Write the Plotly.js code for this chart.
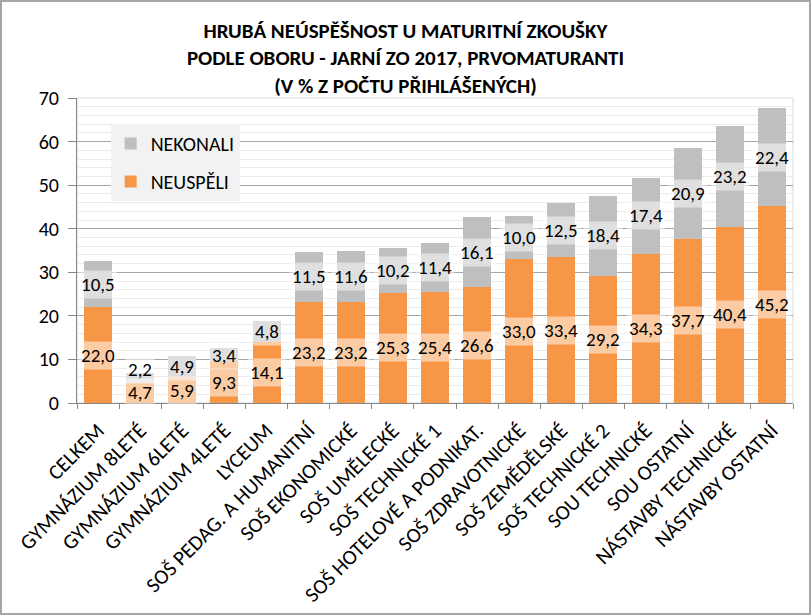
<!DOCTYPE html>
<html>
<head>
<meta charset="utf-8">
<script src="https://cdn.plot.ly/plotly-3.0.1.min.js"></script>
<style>
  html, body { margin: 0; padding: 0; background: #fff; }
  #wrap { position: relative; width: 811px; height: 615px; }
  #chart { width: 811px; height: 615px; }
  #frame { position: absolute; left: 0; top: 0; width: 811px; height: 615px; box-sizing: border-box; border: 2px solid #a6a6a6; pointer-events: none; }
</style>
</head>
<body>
<div id="wrap"><div id="chart"></div><div id="frame"></div></div>
<script>
const categories = [
  "CELKEM", "GYMNÁZIUM 8LETÉ", "GYMNÁZIUM 6LETÉ", "GYMNÁZIUM 4LETÉ", "LYCEUM",
  "SOŠ PEDAG. A HUMANITNÍ", "SOŠ EKONOMICKÉ", "SOŠ UMĚLECKÉ", "SOŠ TECHNICKÉ 1",
  "SOŠ HOTELOVÉ A PODNIKAT.", "SOŠ ZDRAVOTNICKÉ", "SOŠ ZEMĚDĚLSKÉ", "SOŠ TECHNICKÉ 2",
  "SOU TECHNICKÉ", "SOU OSTATNÍ", "NÁSTAVBY TECHNICKÉ", "NÁSTAVBY OSTATNÍ"
];
const neuspeli = [22.0, 4.7, 5.9, 9.3, 14.1, 23.2, 23.2, 25.3, 25.4, 26.6, 33.0, 33.4, 29.2, 34.3, 37.7, 40.4, 45.2];
const nekonali = [10.5, 2.2, 4.9, 3.4, 4.8, 11.5, 11.6, 10.2, 11.4, 16.1, 10.0, 12.5, 18.4, 17.4, 20.9, 23.2, 22.4];
const seriesNames = ["NEUSPĚLI", "NEKONALI"];
const yTicks = [0, 10, 20, 30, 40, 50, 60, 70];

const FONT = "Carlito, Calibri, 'Liberation Sans', Arial, sans-serif";
const fmt = v => v.toFixed(1).replace('.', ',');

const traces = [
  { type: 'bar', name: seriesNames[0], x: categories, y: neuspeli,
    marker: { color: '#F79646' }, legendgroup: 'a', legendrank: 2, hoverinfo: 'skip' },
  { type: 'bar', name: seriesNames[1], x: categories, y: nekonali,
    marker: { color: '#BFBFBF' }, legendgroup: 'b', legendrank: 1, hoverinfo: 'skip' }
];

const labelFont = { family: FONT, size: 19, color: '#000' };
const annotations = [];
categories.forEach((c, i) => {
  annotations.push({ x: c, y: neuspeli[i] / 2, xref: 'x', yref: 'y', text: fmt(neuspeli[i]),
    showarrow: false, font: labelFont, bgcolor: 'rgba(255,255,255,0.5)', borderpad: 2 });
  // small segments: nudge label up so it does not collide with the label below (as in the original)
  annotations.push({ x: c, y: neuspeli[i] + nekonali[i] / 2, xref: 'x', yref: 'y', text: fmt(nekonali[i]),
    showarrow: false, font: labelFont, bgcolor: 'rgba(255,255,255,0.5)', borderpad: 2,
    yshift: nekonali[i] < 3 ? 8 : 0 });
});

const layout = {
  width: 811, height: 615,
  margin: { l: 77, r: 18, t: 98, b: 212 },
  paper_bgcolor: '#fff', plot_bgcolor: '#fff',
  barmode: 'stack', bargap: 0.335,
  title: {
    text: 'HRUBÁ NEÚSPĚŠNOST U MATURITNÍ ZKOUŠKY<br>PODLE OBORU - JARNÍ ZO 2017, PRVOMATURANTI<br>(V % Z POČTU PŘIHLÁŠENÝCH)',
    font: { family: FONT, size: 21, color: '#000', weight: 'bold' },
    x: 0.5, xanchor: 'center', xref: 'container', y: 1 - 38 / 615, yanchor: 'middle', yref: 'container'
  },
  showlegend: true,
  legend: {
    x: 0.047, y: 0.915, xanchor: 'left', yanchor: 'top',
    bgcolor: '#F2F2F2', traceorder: 'grouped', tracegroupgap: 9,
    font: { family: FONT, size: 20, color: '#000' }
  },
  xaxis: {
    type: 'category', tickangle: -45, tickson: 'boundaries', ticks: 'outside', ticklen: 5,
    tickcolor: '#868686', showline: true, linecolor: '#868686', linewidth: 1,
    ticklabelstandoff: 6,
    tickfont: { family: FONT, size: 21, color: '#000' }
  },
  yaxis: {
    range: [0, 70], tickvals: yTicks, ticktext: yTicks.map(String),
    ticks: 'outside', ticklen: 8, tickcolor: '#868686',
    showline: true, linecolor: '#868686', linewidth: 1,
    showgrid: true, gridcolor: '#A6A6A6', gridwidth: 1, zeroline: false,
    minor: { dtick: 2, showgrid: true, gridcolor: '#EBEBEB', gridwidth: 1 },
    ticklabelstandoff: 5,
    tickfont: { family: FONT, size: 20, color: '#000' }
  },
  shapes: [
    { type: 'rect', xref: 'paper', yref: 'paper', x0: 0, x1: 1, y0: 0, y1: 1,
      line: { color: '#D9D9D9', width: 1 }, layer: 'below' }
  ],
  annotations: annotations
};

Plotly.newPlot('chart', traces, layout, { displayModeBar: false, staticPlot: true });
</script>
</body>
</html>
